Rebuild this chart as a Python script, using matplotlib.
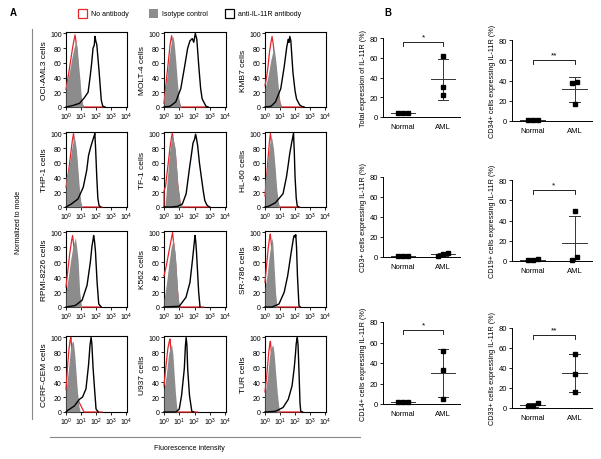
import numpy as np
import matplotlib
matplotlib.use("Agg")
import matplotlib.pyplot as plt
from matplotlib.patches import Rectangle

plt.rcParams['font.family'] = ['Liberation Sans', 'DejaVu Sans']
plt.rcParams['mathtext.fontset'] = 'custom'
plt.rcParams['mathtext.rm'] = 'Liberation Sans'
plt.rcParams['mathtext.default'] = 'regular'

W, H = 601, 460

# ---------------- Panel A data: (log10 intensity, % of mode) ----------------
cell_lines = ["OCI-AML3 cells", "MOLT-4 cells", "KMB7 cells",
              "THP-1 cells", "TF-1 cells", "HL-60 cells",
              "RPMI-8226 cells", "K562 cells", "SR-786 cells",
              "CCRF-CEM cells", "U937 cells", "TUR cells"]

red_curves = [
    [(0,24),(0.15,42),(0.3,62),(0.45,82),(0.6,98),(0.66,90),(0.75,70),(0.85,40),(1.0,10),(1.15,0),(2.5,0)],
    [(0,5),(0.1,25),(0.25,55),(0.4,85),(0.5,97),(0.55,90),(0.65,75),(0.8,35),(0.95,8),(1.1,0),(2.7,0)],
    [(0,29),(0.1,40),(0.2,55),(0.3,75),(0.4,88),(0.47,96),(0.55,85),(0.68,60),(0.85,25),(1.0,5),(1.1,0),(2.5,0)],
    [(0,27),(0.15,45),(0.3,70),(0.42,90),(0.5,100),(0.56,90),(0.68,70),(0.8,35),(0.92,8),(1.05,0),(2.4,0)],
    [(0,0),(0,22),(0.1,28),(0.25,55),(0.4,82),(0.5,96),(0.55,100),(0.62,88),(0.73,75),(0.9,30),(1.05,6),(1.2,0),(2.9,0)],
    [(0,15),(0.1,40),(0.2,65),(0.3,90),(0.36,100),(0.42,90),(0.52,72),(0.65,40),(0.8,10),(0.92,0),(2.3,0)],
    [(0,27),(0.1,45),(0.25,72),(0.38,90),(0.44,96),(0.5,85),(0.6,70),(0.72,40),(0.85,10),(0.98,0),(2.3,0)],
    [(0,42),(0.15,55),(0.3,72),(0.45,88),(0.56,100),(0.62,88),(0.72,70),(0.85,30),(0.95,5),(1.05,0),(2.6,0)],
    [(0,33),(0.1,55),(0.22,80),(0.3,92),(0.35,98),(0.42,85),(0.52,60),(0.62,30),(0.72,5),(0.8,0),(2.3,0)],
    [(0,30),(0.1,60),(0.2,85),(0.28,97),(0.33,100),(0.4,80),(0.5,40),(0.62,22),(0.78,17),(1.0,8),(1.2,0),(2.4,0)],
    [(0,35),(0.12,60),(0.25,85),(0.35,95),(0.4,98),(0.46,80),(0.54,40),(0.64,10),(0.75,1),(0.9,0),(2.2,0)],
    [(0,27),(0.12,50),(0.25,80),(0.32,92),(0.36,95),(0.42,80),(0.5,42),(0.6,12),(0.72,1),(0.85,0),(2.4,0)],
]

gray_curves = [
    [(0,30),(0.2,45),(0.4,68),(0.55,82),(0.67,89),(0.75,80),(0.85,55),(0.94,35),(1.02,12),(1.12,2),(1.2,0)],
    [(0,15),(0.15,35),(0.35,70),(0.5,92),(0.58,96),(0.66,88),(0.76,65),(0.87,35),(0.97,12),(1.07,2),(1.15,0)],
    [(0,25),(0.2,42),(0.4,65),(0.55,78),(0.62,78),(0.72,62),(0.83,40),(0.93,15),(1.02,3),(1.1,0)],
    [(0,40),(0.2,55),(0.4,82),(0.52,95),(0.58,93),(0.68,80),(0.78,55),(0.9,22),(1.0,5),(1.08,0)],
    [(0.05,0),(0.1,10),(0.22,40),(0.35,72),(0.48,94),(0.55,98),(0.63,90),(0.73,80),(0.82,55),(0.9,31),(1.05,7),(1.2,0)],
    [(0,35),(0.12,52),(0.28,82),(0.4,95),(0.46,93),(0.56,80),(0.67,55),(0.78,25),(0.88,8),(0.97,0)],
    [(0,20),(0.15,40),(0.3,62),(0.45,80),(0.62,93),(0.7,82),(0.8,64),(0.91,20),(1.02,2),(1.08,0)],
    [(0,10),(0.15,30),(0.3,55),(0.45,78),(0.6,91),(0.68,80),(0.78,60),(0.9,20),(1.0,2),(1.05,0)],
    [(0,25),(0.15,45),(0.3,72),(0.47,93),(0.52,85),(0.58,64),(0.7,20),(0.79,1),(0.85,0)],
    [(0,30),(0.15,55),(0.3,85),(0.4,94),(0.48,95),(0.57,80),(0.66,55),(0.76,28),(0.86,8),(0.95,0)],
    [(0,30),(0.15,50),(0.3,78),(0.42,88),(0.5,90),(0.58,78),(0.66,52),(0.75,25),(0.83,7),(0.9,0)],
    [(0,25),(0.15,45),(0.3,75),(0.45,88),(0.53,90),(0.61,78),(0.71,52),(0.82,25),(0.92,7),(1.0,0)],
]

black_curves = [
    [(0,0),(0.45,2),(0.9,5),(1.2,12),(1.47,20),(1.6,40),(1.7,58),(1.8,80),(1.88,84),(1.93,96),(1.98,90),(2.05,85),(2.2,49),(2.35,9),(2.45,1),(2.6,0)],
    [(0,0),(0.4,1),(0.77,7),(1.1,25),(1.35,55),(1.55,80),(1.7,90),(1.85,93),(1.95,88),(2.05,100),(2.15,92),(2.28,55),(2.4,25),(2.5,11),(2.75,1),(2.9,0)],
    [(0,0),(0.4,1),(0.7,7),(1.05,25),(1.28,55),(1.45,82),(1.55,92),(1.6,88),(1.65,96),(1.72,90),(1.86,47),(2.0,22),(2.1,11),(2.3,3),(2.44,1),(2.6,0)],
    [(0,0),(0.35,4),(0.8,11),(1.15,27),(1.38,50),(1.5,70),(1.65,82),(1.8,92),(1.88,97),(1.92,100),(1.97,80),(2.05,40),(2.12,12),(2.2,2),(2.3,0)],
    [(0,0),(0.5,0),(0.9,1),(1.2,4),(1.45,18),(1.67,53),(1.8,72),(1.9,87),(2.0,92),(2.07,99),(2.12,94),(2.2,84),(2.32,60),(2.45,40),(2.57,22),(2.67,9),(2.8,3),(2.9,1),(3.0,0)],
    [(0,0),(0.25,1),(0.7,6),(1.2,18),(1.43,41),(1.55,58),(1.65,73),(1.78,88),(1.85,95),(1.9,100),(1.95,75),(2.0,41),(2.08,12),(2.15,1),(2.25,0)],
    [(0,0),(0.62,2),(1.07,9),(1.4,29),(1.62,60),(1.73,82),(1.8,90),(1.84,96),(1.9,88),(1.96,75),(2.07,33),(2.18,4),(2.35,0)],
    [(0,0),(1.0,1),(1.44,13),(1.7,33),(1.87,64),(1.95,80),(2.0,90),(2.03,96),(2.08,88),(2.13,73),(2.27,20),(2.36,0)],
    [(0,0),(0.47,0),(0.93,4),(1.28,20),(1.51,42),(1.74,73),(1.9,93),(1.95,96),(2.0,94),(2.05,97),(2.1,80),(2.16,42),(2.26,2),(2.35,0)],
    [(0,0),(0.1,2),(0.55,8),(0.89,17),(1.1,20),(1.33,31),(1.5,63),(1.6,90),(1.67,100),(1.72,92),(1.8,60),(1.9,31),(2.0,4),(2.15,0)],
    [(0,0),(0.78,0),(1.0,4),(1.15,22),(1.33,58),(1.4,88),(1.45,100),(1.5,90),(1.55,58),(1.67,22),(1.82,1),(1.95,0)],
    [(0,0),(0.7,1),(1.2,6),(1.55,17),(1.8,35),(1.95,60),(2.02,76),(2.08,92),(2.12,97),(2.15,100),(2.2,90),(2.27,50),(2.33,12),(2.38,1),(2.5,0)],
]

hist_yticks = [0, 20, 40, 60, 80, 100]
hist_xticks = [1, 10, 100, 1000, 10000]
hist_xticklabels = ["$10^{0}$", "$10^{1}$", "$10^{2}$", "$10^{3}$", "$10^{4}$"]

# ---------------- Panel B data ----------------
groups = ["Normal", "AML"]
b_titles = ["Total expression of IL-11R (%)", "CD34+ cells expressing IL-11R (%)",
            "CD3+ cells expressing IL-11R (%)", "CD19+ cells expressing IL-11R (%)",
            "CD14+ cells expressing IL-11R (%)", "CD33+ cells expressing IL-11R (%)"]
normal_vals = [[4, 4, 4], [1, 1, 1], [1.5, 1, 1], [1.5, 1, 1], [2, 2, 2], [5, 2, 2]]
aml_vals = [[62, 30, 22], [39, 38, 17], [4, 1, 3.5], [49, 1, 4], [52, 33, 5], [54, 34, 16]]
sig_labels = ["*", "**", "", "*", "*", "**"]
bracket_y = [76, 60, None, 70, 72, 73]
b_yticks = [0, 20, 40, 60, 80]

# ---------------- layout helpers ----------------
def rect(x0, y0, x1, y1):
    return [x0 / W, 1 - y1 / H, (x1 - x0) / W, (y1 - y0) / H]

fig = plt.figure(figsize=(W / 100, H / 100), dpi=100)

RED = '#e3262b'
GRAY = '#8c8c8c'

col_x = [(66, 127), (164, 226), (265, 326)]
row_y = [(33, 108), (133, 208), (232, 308), (337, 413)]

for i, name in enumerate(cell_lines):
    r, c = divmod(i, 3)
    ax = fig.add_axes(rect(col_x[c][0], row_y[r][0], col_x[c][1], row_y[r][1]))
    rx, ry = zip(*red_curves[i])
    ax.plot(10 ** np.array(rx), ry, color=RED, lw=0.9, zorder=3, clip_on=False)
    gx, gy = zip(*gray_curves[i])
    ax.fill_between(10 ** np.array(gx), gy, 0, color=GRAY, lw=0, zorder=3.1)
    bx, by = zip(*black_curves[i])
    ax.plot(10 ** np.array(bx), by, color='black', lw=1.0, zorder=3.2, clip_on=False)
    ax.set_xscale('log')
    ax.set_xlim(1, 1.15e4)
    ax.set_ylim(0, 102)
    ax.set_xticks(hist_xticks)
    ax.set_xticklabels(hist_xticklabels)
    ax.minorticks_off()
    ax.set_yticks(hist_yticks)
    ax.tick_params(labelsize=5, length=2, width=0.6, pad=1, direction='out')
    for s in ax.spines.values():
        s.set_linewidth(0.8)
    ax.set_ylabel(name, fontsize=6, labelpad=1.5)

b_pos = [(383, 39, 460, 118), (512, 41, 592, 122),
         (383, 178, 460, 258), (512, 181, 592, 262),
         (383, 323, 460, 405), (512, 329, 592, 409)]

def spread(vals, step=0.12, tol=5):
    vals = np.asarray(vals, float)
    order = np.argsort(vals)
    offs = np.zeros(len(vals))
    grp = []
    for idx in order:
        if grp and abs(vals[idx] - vals[grp[-1][-1]]) < tol:
            grp[-1].append(idx)
        else:
            grp.append([idx])
    for g in grp:
        n = len(g)
        for k, idx in enumerate(g):
            offs[idx] = (k - (n - 1) / 2) * step
    return offs

for j in range(6):
    x0, y0, x1, y1 = b_pos[j]
    ax = fig.add_axes(rect(x0, y0, x1, y1))
    for gi, vals in enumerate([normal_vals[j], aml_vals[j]]):
        vals = np.asarray(vals, float)
        m = vals.mean()
        sd = vals.std(ddof=1)
        ax.plot(gi + spread(vals), vals, 's', color='black', ms=3.2, zorder=4, clip_on=False)
        ax.plot([gi - 0.3, gi + 0.3], [m, m], color='#333333', lw=0.7, zorder=3, clip_on=False)
        if sd > 0.5:
            ax.plot([gi, gi], [m - sd, m + sd], color='#333333', lw=0.7, zorder=3)
            for v in (m - sd, m + sd):
                ax.plot([gi - 0.13, gi + 0.13], [v, v], color='#333333', lw=0.7, zorder=3)
    if bracket_y[j] is not None:
        yb = bracket_y[j]
        ax.plot([0, 0, 1, 1], [yb - 4, yb, yb, yb - 4], color='black', lw=0.6, clip_on=False)
        ax.text(0.5, yb + 1.5, sig_labels[j], ha='center', va='bottom', fontsize=6)
    ax.set_xlim(-0.5, 1.42)
    ax.set_ylim(0, 80)
    ax.set_yticks(b_yticks)
    ax.set_xticks([0, 1])
    ax.set_xticklabels(groups)
    ax.tick_params(axis='y', labelsize=5.5, length=2, width=0.6, pad=1.5)
    ax.tick_params(axis='x', labelsize=5.5, length=0, pad=4)
    for s in ['top', 'right']:
        ax.spines[s].set_visible(False)
    for s in ['left', 'bottom']:
        ax.spines[s].set_linewidth(0.7)
    ax.set_ylabel(b_titles[j], fontsize=5.2, labelpad=2)

# ---------------- figure decorations ----------------
ov = fig.add_axes([0, 0, 1, 1], zorder=-1)
ov.set_xlim(0, W)
ov.set_ylim(H, 0)
ov.axis('off')
ov.text(10, 13, "A", fontsize=7, fontweight='bold', va='center')
ov.text(384, 13, "B", fontsize=7, fontweight='bold', va='center')
ov.add_patch(Rectangle((78, 10), 9, 9, fill=False, edgecolor=RED, lw=0.9))
ov.text(91, 14.5, "No antibody", fontsize=5, va='center')
ov.add_patch(Rectangle((149, 10), 9, 9, facecolor=GRAY, edgecolor='none'))
ov.text(162, 14.5, "Isotype control", fontsize=5, va='center')
ov.add_patch(Rectangle((225, 10), 9, 9, fill=False, edgecolor='black', lw=0.9))
ov.text(238, 14.5, "anti-IL-11R antibody", fontsize=5, va='center')
ov.plot([32, 32], [30, 420], color='#888888', lw=0.8)
ov.plot([50, 360], [438, 438], color='#888888', lw=0.8)
ov.text(18, 222, "Normalized to mode", fontsize=5, rotation=90, ha='center', va='center')
ov.text(189, 449, "Fluorescence intensity", fontsize=5, ha='center', va='center')

fig.savefig("out.png", dpi=100)
